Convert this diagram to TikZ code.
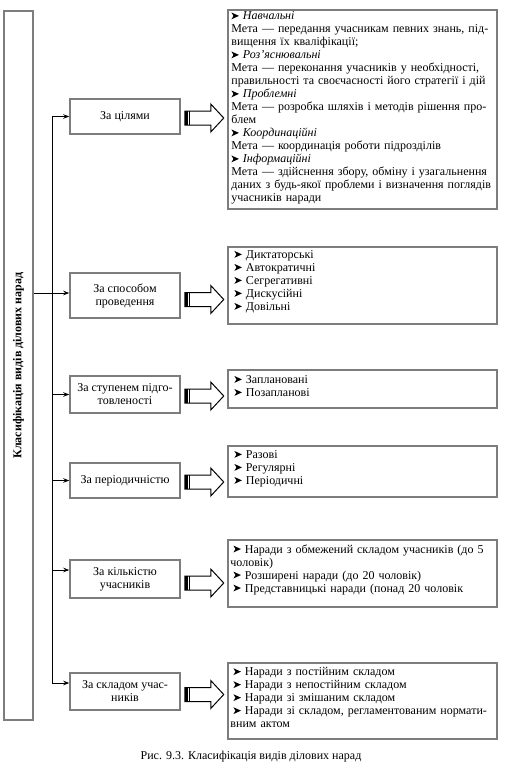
\documentclass[tikz,border=0pt]{standalone}
\usepackage{fontspec}
\setmainfont{Liberation Serif}
\usetikzlibrary{arrows.meta}
\definecolor{boxgray}{RGB}{125,125,125}
\newcommand\blt{\tikz[baseline=-0.6pt]{\fill (0pt,0pt)--(7.5pt,3.4pt)--(0pt,6.8pt)--(2pt,3.4pt)--cycle;}\ }
\newcommand\jl[1]{\makebox[\hsize][s]{#1}}
\begin{document}
\begin{tikzpicture}[x=1pt,y=-1pt,
  box/.style={draw=boxgray, line width=1.5pt, inner sep=0pt},
  mid/.style={box, minimum width=110pt, align=center, font=\fontsize{12}{13}\selectfont},
  rbox/.style={box, minimum width=269pt},
  rtext/.style={anchor=north west, inner sep=0pt, text width=#1, align=left, font=\fontsize{12}{13}\selectfont},
  rtext/.default=262pt,
  conn/.style={line width=0.8pt, -{Stealth[length=6pt,width=4.5pt]}},
  hollow/.pic={
    \fill (0,-7) rectangle (3.2,7);
    \fill (4.4,-7) rectangle (5.4,7);
    \draw[line width=1pt, line join=miter] (0,-7) -- (26,-7) -- (26,-14) -- (39,0) -- (26,14) -- (26,7) -- (0,7) -- cycle;
  }]
\useasboundingbox (0,0) rectangle (508,774);

% left classification box
\node[box, minimum width=29pt, minimum height=709pt] (L) at (18.5,365.5) {};
\node[rotate=90, font=\bfseries\fontsize{12}{13}\selectfont] (Lt) at (L.center) {Класифікація видів ділових нарад};

% middle boxes
\node[mid, minimum height=35pt] (b1) at (125,116.5) {За цілями};
\node[mid, minimum height=45pt] (b2) at (125,295.5) {За способом\\проведення};
\node[mid, minimum height=37pt] (b3) at (125,394.5) {За ступенем підго-\\товленості};
\node[mid, minimum height=35pt] (b4) at (125,480.5) {За періодичністю};
\node[mid, minimum height=38pt] (b5) at (125,579) {За кількістю\\учасників};
\node[mid, minimum height=37pt] (b6) at (125,691.5) {За складом учас-\\ників};

% right boxes
\node[rbox, minimum height=199pt] (r1) at (362.5,109.5) {};
\node[rbox, minimum height=77pt] (r2) at (362.5,285.5) {};
\node[rbox, minimum height=38pt] (r3) at (362.5,389) {};
\node[rbox, minimum height=51pt] (r4) at (362.5,471.5) {};
\node[rbox, minimum height=67pt] (r5) at (362.5,573.5) {};
\node[rbox, minimum height=76pt] (r6) at (362.5,701) {};

\node[rtext=261pt] (t1) at ([xshift=4pt,yshift=-2.5pt]r1.north west) {%
\blt\textit{Навчальні}\\
\jl{Мета — передання учасникам певних знань, під-}\\
вищення їх кваліфікації;\\
\blt\textit{Роз’яснювальні}\\
\jl{Мета — переконання учасників у необхідності,}\\
\jl{правильності та своєчасності його стратегії і дій}\\
\blt\textit{Проблемні}\\
\jl{Мета — розробка шляхів і методів рішення про-}\\
блем\\
\blt\textit{Координаційні}\\
Мета — координація роботи підрозділів\\
\blt\textit{Інформаційні}\\
\jl{Мета — здійснення збору, обміну і узагальнення}\\
\jl{даних з будь-якої проблеми і визначення поглядів}\\
учасників наради};

\node[rtext=255pt] (t2) at ([xshift=7pt,yshift=-4pt]r2.north west) {%
\blt Диктаторські\\
\blt Автократичні\\
\blt Сегрегативні\\
\blt Дискусійні\\
\blt Довільні};

\node[rtext=255pt] (t3) at ([xshift=7pt,yshift=-6pt]r3.north west) {%
\blt Заплановані\\
\blt Позапланові};

\node[rtext=255pt] (t4) at ([xshift=7pt,yshift=-5pt]r4.north west) {%
\blt Разові\\
\blt Регулярні\\
\blt Періодичні};

\node[rtext=263pt] (t5) at ([xshift=3pt,yshift=-5pt]r5.north west) {%
\jl{\hspace*{3pt}\blt Наради з обмежений складом учасників (до 5}\\
чоловік)\\
\hspace*{3pt}\blt Розширені наради (до 20 чоловік)\\
\hspace*{3pt}\blt Представницькі наради (понад 20 чоловік};

\node[rtext=263pt] (t6) at ([xshift=3pt,yshift=-5pt]r6.north west) {%
\hspace*{3pt}\blt Наради з постійним складом\\
\hspace*{3pt}\blt Наради з непостійним складом\\
\hspace*{3pt}\blt Наради зі змішаним складом\\
\jl{\hspace*{3pt}\blt Наради зі складом, регламентованим нормати-}\\
вним актом};

% connectors
\coordinate (tr) at (52,0);
\coordinate (p2) at ([yshift=2.5pt]b2.west);
\coordinate (p5) at ([yshift=9pt]b5.west);
\coordinate (p6) at ([yshift=8.5pt]b6.west);
\draw[line width=0.8pt] (tr |- b1.west) -- (tr |- p6);
\draw[conn] (tr |- b1.west) -- (b1.west);
\draw[conn] (L.east |- p2) -- (p2);
\draw[conn] (tr |- b3.west) -- (b3.west);
\draw[conn] (tr |- b4.west) -- (b4.west);
\draw[conn] (tr |- p5) -- (p5);
\draw[conn] (tr |- p6) -- (p6);

% hollow arrows
\pic at ([xshift=4pt,yshift=-1.5pt]b1.east) {hollow};
\pic at ([xshift=4pt,yshift=-4pt]b2.east) {hollow};
\pic at ([xshift=4pt,yshift=-1.5pt]b3.east) {hollow};
\pic at ([xshift=4pt,yshift=-1.5pt]b4.east) {hollow};
\pic at ([xshift=4pt,yshift=-4pt]b5.east) {hollow};
\pic at ([xshift=4pt,yshift=-3pt]b6.east) {hollow};

% caption
\node[font=\fontsize{12}{13}\selectfont] (cap) at (251,757) {Рис. 9.3. Класифікація видів ділових нарад};
\end{tikzpicture}
\end{document}
